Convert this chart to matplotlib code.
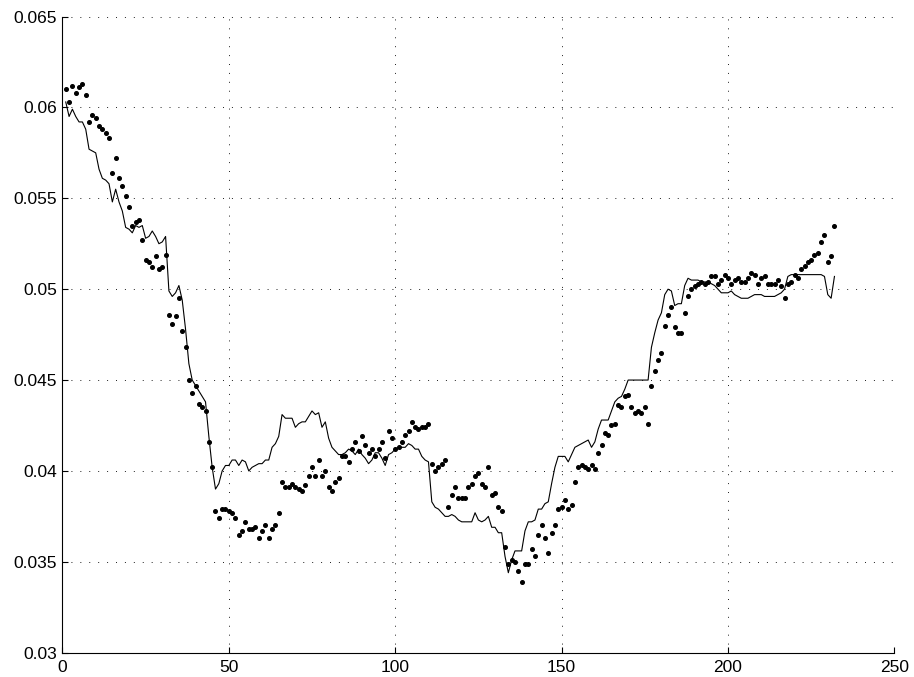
import numpy as np
import matplotlib
matplotlib.use("Agg")
import matplotlib.pyplot as plt

plt.rcParams["font.family"] = ["Liberation Sans", "DejaVu Sans"]

# measured values (dots) and fitted/model curve (line), one per sample 1..232
dots = [
    0.0610, 0.0603, 0.0612, 0.0608, 0.0611, 0.0613, 0.0607, 0.0592, 0.0596, 0.0594,
    0.0590, 0.0588, 0.0586, 0.0583, 0.0564, 0.0572, 0.0561, 0.0557, 0.0551, 0.0545,
    0.0535, 0.0537, 0.0538, 0.0527, 0.0516, 0.0515, 0.0512, 0.0518, 0.0511, 0.0512,
    0.0519, 0.0486, 0.0481, 0.0485, 0.0495, 0.0477, 0.0468, 0.0450, 0.0443, 0.0447,
    0.0437, 0.0435, 0.0433, 0.0416, 0.0402, 0.0378, 0.0374, 0.0379, 0.0379, 0.0378,
    0.0377, 0.0374, 0.0365, 0.0367, 0.0372, 0.0368, 0.0368, 0.0369, 0.0363, 0.0367,
    0.0370, 0.0363, 0.0368, 0.0370, 0.0377, 0.0394, 0.0391, 0.0391, 0.0393, 0.0391,
    0.0390, 0.0389, 0.0392, 0.0397, 0.0402, 0.0397, 0.0406, 0.0397, 0.0400, 0.0391,
    0.0389, 0.0394, 0.0396, 0.0408, 0.0408, 0.0405, 0.0412, 0.0416, 0.0411, 0.0419,
    0.0414, 0.0410, 0.0412, 0.0408, 0.0412, 0.0416, 0.0407, 0.0422, 0.0418, 0.0412,
    0.0413, 0.0416, 0.0420, 0.0422, 0.0427, 0.0424, 0.0423, 0.0424, 0.0424, 0.0426,
    0.0404, 0.0400, 0.0402, 0.0404, 0.0406, 0.0380, 0.0387, 0.0391, 0.0385, 0.0385,
    0.0385, 0.0391, 0.0393, 0.0397, 0.0399, 0.0393, 0.0391, 0.0402, 0.0387, 0.0388,
    0.0380, 0.0378, 0.0358, 0.0349, 0.0351, 0.0350, 0.0345, 0.0339, 0.0349, 0.0349,
    0.0357, 0.0353, 0.0365, 0.0370, 0.0363, 0.0355, 0.0366, 0.0370, 0.0379, 0.0380,
    0.0384, 0.0379, 0.0381, 0.0394, 0.0402, 0.0403, 0.0402, 0.0401, 0.0403, 0.0401,
    0.0410, 0.0414, 0.0421, 0.0420, 0.0425, 0.0426, 0.0436, 0.0435, 0.0441, 0.0442,
    0.0435, 0.0432, 0.0433, 0.0432, 0.0435, 0.0426, 0.0447, 0.0455, 0.0461, 0.0465,
    0.0480, 0.0486, 0.0490, 0.0479, 0.0476, 0.0476, 0.0487, 0.0496, 0.0500, 0.0502,
    0.0503, 0.0504, 0.0503, 0.0504, 0.0507, 0.0507, 0.0503, 0.0505, 0.0508, 0.0506,
    0.0503, 0.0505, 0.0506, 0.0504, 0.0504, 0.0506, 0.0509, 0.0508, 0.0503, 0.0506,
    0.0507, 0.0503, 0.0503, 0.0503, 0.0505, 0.0502, 0.0495, 0.0503, 0.0504, 0.0508,
    0.0506, 0.0511, 0.0513, 0.0515, 0.0516, 0.0519, 0.0520, 0.0526, 0.0530, 0.0515,
    0.0518, 0.0535,
]

curve = [
    0.0603, 0.0595, 0.0599, 0.0595, 0.0592, 0.0592, 0.0588, 0.0577, 0.0576, 0.0575,
    0.0566, 0.0561, 0.0560, 0.0558, 0.0548, 0.0555, 0.0548, 0.0543, 0.0534, 0.0533,
    0.0531, 0.0535, 0.0534, 0.0535, 0.0528, 0.0529, 0.0532, 0.0529, 0.0525, 0.0526,
    0.0529, 0.0499, 0.0496, 0.0498, 0.0502, 0.0494, 0.0478, 0.0459, 0.0450, 0.0447,
    0.0444, 0.0441, 0.0438, 0.0419, 0.0402, 0.0390, 0.0393, 0.0400, 0.0403, 0.0403,
    0.0406, 0.0406, 0.0403, 0.0406, 0.0405, 0.0400, 0.0402, 0.0403, 0.0404, 0.0404,
    0.0406, 0.0406, 0.0413, 0.0415, 0.0419, 0.0431, 0.0429, 0.0429, 0.0429, 0.0424,
    0.0426, 0.0427, 0.0427, 0.0430, 0.0433, 0.0431, 0.0432, 0.0424, 0.0427, 0.0418,
    0.0413, 0.0411, 0.0409, 0.0409, 0.0410, 0.0412, 0.0411, 0.0409, 0.0412, 0.0409,
    0.0407, 0.0404, 0.0406, 0.0410, 0.0410, 0.0407, 0.0403, 0.0409, 0.0410, 0.0412,
    0.0413, 0.0413, 0.0413, 0.0415, 0.0414, 0.0412, 0.0412, 0.0408, 0.0406, 0.0405,
    0.0383, 0.0380, 0.0379, 0.0377, 0.0375, 0.0375, 0.0376, 0.0375, 0.0373, 0.0372,
    0.0372, 0.0372, 0.0372, 0.0377, 0.0373, 0.0372, 0.0373, 0.0375, 0.0369, 0.0369,
    0.0366, 0.0366, 0.0353, 0.0344, 0.0351, 0.0356, 0.0356, 0.0356, 0.0367, 0.0372,
    0.0372, 0.0373, 0.0379, 0.0379, 0.0382, 0.0383, 0.0393, 0.0402, 0.0408, 0.0408,
    0.0408, 0.0405, 0.0409, 0.0413, 0.0414, 0.0415, 0.0416, 0.0417, 0.0413, 0.0416,
    0.0423, 0.0428, 0.0428, 0.0428, 0.0433, 0.0438, 0.0440, 0.0441, 0.0445, 0.0450,
    0.0450, 0.0450, 0.0450, 0.0450, 0.0450, 0.0450, 0.0468, 0.0476, 0.0483, 0.0487,
    0.0497, 0.0500, 0.0499, 0.0491, 0.0492, 0.0492, 0.0502, 0.0506, 0.0505, 0.0505,
    0.0505, 0.0504, 0.0504, 0.0504, 0.0503, 0.0502, 0.0500, 0.0498, 0.0498, 0.0498,
    0.0499, 0.0497, 0.0496, 0.0495, 0.0495, 0.0495, 0.0496, 0.0497, 0.0497, 0.0497,
    0.0496, 0.0496, 0.0496, 0.0496, 0.0497, 0.0498, 0.0500, 0.0507, 0.0508, 0.0508,
    0.0508, 0.0508, 0.0508, 0.0508, 0.0508, 0.0508, 0.0508, 0.0508, 0.0507, 0.0497,
    0.0495, 0.0507,
]

xticks = [0, 50, 100, 150, 200, 250]
yticks = [0.03, 0.035, 0.04, 0.045, 0.05, 0.055, 0.06, 0.065]
ytick_labels = ["0.03", "0.035", "0.04", "0.045", "0.05", "0.055", "0.06", "0.065"]

n = np.arange(1, len(dots) + 1)

fig = plt.figure(figsize=(9.14, 6.77), dpi=100)
ax = fig.add_axes([0.0683, 0.0359, 0.9102, 0.9397])

ax.plot(n, curve, color="black", lw=0.8)
ax.plot(n, dots, linestyle="none", marker="o", ms=2.6, color="black")

ax.set_xlim(0, 250)
ax.set_ylim(0.03, 0.065)
ax.set_xticks(xticks)
ax.set_xticklabels([str(t) for t in xticks])
ax.set_yticks(yticks)
ax.set_yticklabels(ytick_labels)

ax.grid(True, color="black", lw=0.6, linestyle=(0, (1.2, 9.5)))
ax.set_axisbelow(True)

ax.spines["top"].set_visible(False)
ax.spines["right"].set_visible(False)
for s in ("left", "bottom"):
    ax.spines[s].set_linewidth(0.8)

ax.tick_params(direction="in", length=4.5, width=0.8, labelsize=12.5,
               top=False, right=False)
ax.tick_params(axis="x", pad=5)
ax.tick_params(axis="y", pad=4)

plt.savefig("out.png", dpi=100)
